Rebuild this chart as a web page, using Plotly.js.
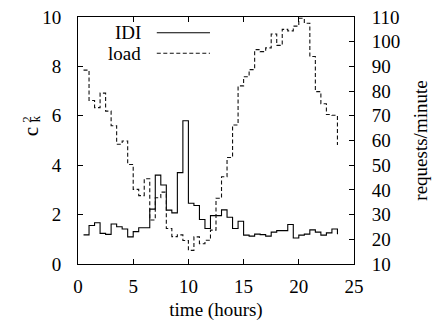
<!DOCTYPE html>
<html>
<head>
<meta charset="utf-8">
<script src="https://cdn.plot.ly/plotly-3.0.1.min.js"></script>
<style>
html,body{margin:0;padding:0;background:#fff;}
#chart{width:434px;height:326px;}
</style>
</head>
<body>
<div id="chart"></div>
<script>
// time of day (hours), start of each half-hour step
const hours = [0.5,1.0,1.5,2.0,2.5,3.0,3.5,4.0,4.5,5.0,5.5,6.0,6.5,7.0,7.5,8.0,8.5,9.0,9.5,10.0,10.5,11.0,11.5,12.0,12.5,13.0,13.5,14.0,14.5,15.0,15.5,16.0,16.5,17.0,17.5,18.0,18.5,19.0,19.5,20.0,20.5,21.0,21.5,22.0,22.5,23.0,23.5];
// IDI (c_k^2), left axis
const idi = [1.18,1.56,1.67,1.24,1.20,1.62,1.51,1.42,1.10,1.31,1.47,1.47,2.22,3.60,3.20,2.18,2.07,3.70,5.80,2.46,2.37,1.80,1.44,1.96,1.96,2.19,1.89,1.44,1.73,1.17,1.13,1.21,1.19,1.13,1.29,1.35,1.35,1.60,1.05,1.17,1.21,1.38,1.29,1.17,1.26,1.42,1.20];
// load (requests/minute), right axis
const load = [88.5,76.2,73.3,79.2,71.9,66.0,58.5,59.8,50.3,40.2,37.7,44.5,27.8,36.8,39.1,24.4,21.1,21.8,19.5,15.5,21.0,18.2,19.6,23.7,36.6,45.3,53.1,66.3,82.1,85.8,88.7,96.8,96.0,97.5,103.1,98.5,105.0,104.4,106.3,109.5,107.5,94.0,79.8,74.9,70.5,70.2,58.2];

const xTicks = [0,5,10,15,20,25];
const yTicks = [0,2,4,6,8,10];
const y2Ticks = [10,20,30,40,50,60,70,80,90,100,110];
const seriesNames = ["IDI","load"];

const FONT = "'Liberation Serif', 'Times New Roman', serif";
const FS = 19;

const traces = [
  {x: hours, y: idi, name: seriesNames[0], type: "scatter", mode: "lines",
   line: {shape: "hv", color: "#000", width: 1.1}, yaxis: "y"},
  {x: hours, y: load, name: seriesNames[1], type: "scatter", mode: "lines",
   line: {shape: "hv", color: "#111", width: 1.1, dash: "4px,2.5px"}, yaxis: "y2"}
];

const L = 78.5, R = 353.5, T = 17, B = 264;
const px = v => (v - L) / (R - L);
const py = v => (B - v) / (B - T);

const layout = {
  width: 434, height: 326,
  margin: {l: 78, r: 80, t: 17, b: 62},
  paper_bgcolor: "#fff", plot_bgcolor: "#fff",
  showlegend: false,
  font: {family: FONT, size: FS, color: "#000"},
  xaxis: {
    range: [0, 25], tickvals: xTicks, ticktext: xTicks.map(String),
    ticks: "inside", ticklen: 5, tickcolor: "#000", tickwidth: 1,
    showline: true, linecolor: "#000", linewidth: 1, mirror: "ticks",
    showgrid: false, zeroline: false, ticklabelstandoff: 5,
    tickfont: {family: FONT, size: FS},
    title: {text: "time (hours)", font: {family: FONT, size: FS}, standoff: 6}
  },
  yaxis: {
    range: [0, 10], tickvals: yTicks, ticktext: yTicks.map(String),
    ticks: "inside", ticklen: 5, tickcolor: "#000", tickwidth: 1,
    showline: true, linecolor: "#000", linewidth: 1, mirror: false,
    showgrid: false, zeroline: false, ticklabelstandoff: 12,
    tickfont: {family: FONT, size: FS}
  },
  yaxis2: {
    range: [10, 110], tickvals: y2Ticks, ticktext: y2Ticks.map(String),
    overlaying: "y", side: "right",
    ticks: "inside", ticklen: 5, tickcolor: "#000", tickwidth: 1,
    showline: true, linecolor: "#000", linewidth: 1,
    showgrid: false, zeroline: false, ticklabelstandoff: 13,
    tickfont: {family: FONT, size: FS},
    title: {text: "requests/minute", font: {family: FONT, size: FS}, standoff: 14}
  },
  annotations: [
    {xref: "paper", yref: "paper", x: px(143), y: py(33), xanchor: "right", yanchor: "middle",
     text: seriesNames[0], showarrow: false, font: {family: FONT, size: 19}},
    {xref: "paper", yref: "paper", x: px(143), y: py(54), xanchor: "right", yanchor: "middle",
     text: seriesNames[1], showarrow: false, font: {family: FONT, size: 19}},
    {xref: "paper", yref: "paper", x: px(32), y: py(132), xanchor: "center", yanchor: "middle",
     text: "c", textangle: -90, showarrow: false, font: {family: FONT, size: 21}},
    {xref: "paper", yref: "paper", x: px(26.5), y: py(119), xanchor: "center", yanchor: "middle",
     text: "2", textangle: -90, showarrow: false, font: {family: FONT, size: 13}},
    {xref: "paper", yref: "paper", x: px(36), y: py(119), xanchor: "center", yanchor: "middle",
     text: "k", textangle: -90, showarrow: false, font: {family: FONT, size: 13}}
  ],
  shapes: [
    {type: "line", xref: "paper", yref: "paper", x0: px(157), x1: px(210), y0: py(32.7), y1: py(32.7),
     line: {color: "#000", width: 1.1}},
    {type: "line", xref: "paper", yref: "paper", x0: px(157), x1: px(210), y0: py(53.3), y1: py(53.3),
     line: {color: "#111", width: 1.1, dash: "4px,2.5px"}}
  ]
};

Plotly.newPlot("chart", traces, layout, {staticPlot: true, displayModeBar: false});
</script>
</body>
</html>
